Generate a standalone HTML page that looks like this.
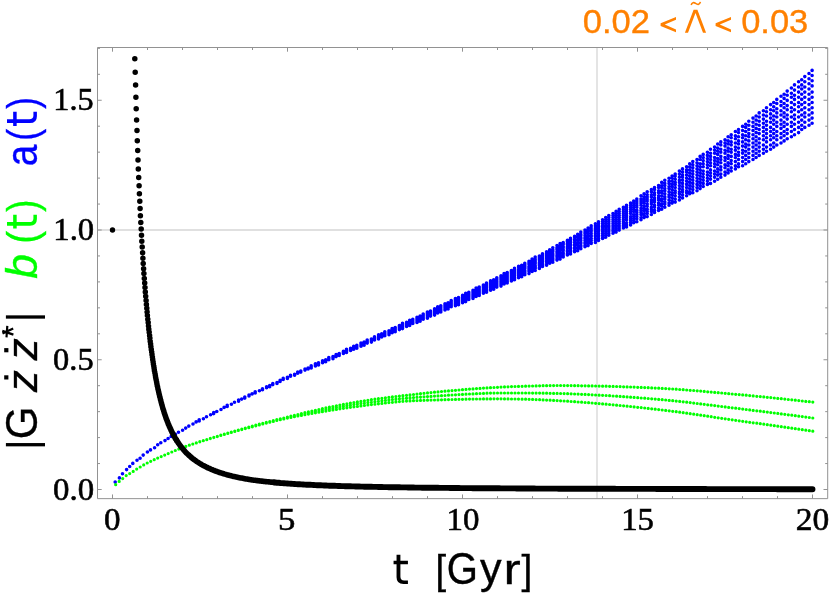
<!DOCTYPE html><html><head><meta charset="utf-8"><style>html,body{margin:0;padding:0;background:#fff}svg{display:block;will-change:transform}text{white-space:pre}</style></head><body><svg width="830" height="596" viewBox="0 0 830 596">
<rect width="830" height="596" fill="#fff"/>
<path d="M597 47.5V498.65M97.5 230H827.7" stroke="#d6d6d6" stroke-width="1.3" fill="none"/>
<path d="M115.2 482.1h0M119.4 477.9h0M122.5 473.8h0M126.6 469.6h0M129.7 466.5h0M132.8 463.4h0M137.0 460.3h0M140.1 458.2h0M143.2 455.1h0M147.4 452.0h0M150.5 449.9h0M154.6 447.8h0M157.7 444.7h0M160.8 442.7h0M165.0 440.6h0M168.1 438.5h0M171.2 436.4h0M175.4 434.4h0M178.5 432.3h0M182.6 430.2h0M185.7 428.1h0M188.8 426.1h0M193.0 424.0h0M196.1 421.9h0M199.2 420.9h0M203.4 418.8h0M206.5 416.7h0M210.6 414.7h0M213.7 413.6h0M216.8 411.5h0M221.0 409.5h0M224.1 407.4h0M227.2 406.4h0M231.4 404.3h0M234.5 402.2h0M238.6 401.2h0M241.7 399.1h0M244.8 398.1h0M249.0 396.0h0M252.1 393.9h0M255.2 392.9h0M259.4 390.8h0M262.5 389.8h0M266.6 387.7h0M269.7 386.7h0M272.8 384.6h0M277.0 383.5h0M280.1 381.5h0M283.2 379.4h0M287.4 378.4h0M290.5 376.3h0M294.6 375.3h0M297.7 373.2h0M300.8 372.1h0M305.0 370.1h0M308.1 369.0h0M311.2 368.0h0M315.4 365.9h0M318.5 364.9h0M322.6 362.8h0M325.7 361.8h0M328.8 359.7h0M333.0 358.7h0M336.1 356.6h0M339.2 355.5h0M343.4 353.5h0M346.5 352.4h0M350.6 350.4h0M353.7 349.3h0M356.8 348.3h0M361.0 346.2h0M364.1 345.2h0M367.2 343.1h0M371.4 342.1h0M374.5 340.0h0M378.6 339.0h0M381.7 336.9h0M384.8 335.8h0M389.0 334.8h0M392.1 332.7h0M395.2 331.7h0M399.4 329.6h0M402.5 328.6h0M406.6 326.5h0M409.7 325.5h0M412.8 323.4h0M417.0 322.4h0M420.1 321.3h0M423.2 319.3h0M427.4 318.2h0M430.5 316.1h0M434.6 315.1h0M437.7 313.0h0M440.8 312.0h0M445.0 309.9h0M448.1 308.9h0M451.2 306.8h0M455.4 305.8h0M458.5 304.7h0M462.6 302.7h0M465.7 301.6h0M468.8 299.5h0M473.0 298.5h0M476.1 296.4h0M479.2 295.4h0M483.4 293.3h0M486.5 292.3h0M490.6 290.2h0M493.7 289.2h0M496.8 287.1h0M501.0 286.1h0M504.1 284.0h0M507.2 283.0h0M511.4 280.9h0M514.5 279.8h0M518.6 277.8h0M521.7 276.7h0M524.8 274.7h0M529.0 273.6h0M532.1 271.5h0M535.2 270.5h0M539.4 268.4h0M542.5 266.4h0M546.6 265.3h0M549.7 263.3h0M552.8 262.2h0M557.0 260.1h0M560.1 259.1h0M563.2 257.0h0M567.4 255.0h0M570.5 253.9h0M574.6 251.8h0M577.7 250.8h0M580.8 248.7h0M585.0 246.7h0M588.1 245.6h0M591.2 243.5h0M595.4 242.5h0M598.5 240.4h0M602.6 238.4h0M605.7 237.3h0M608.8 235.3h0M613.0 233.2h0M616.1 232.1h0M619.2 230.1h0M623.4 228.0h0M626.5 227.0h0M630.6 224.9h0M633.7 222.8h0M636.8 221.8h0M641.0 219.7h0M644.1 217.6h0M647.2 216.6h0M651.4 214.5h0M654.5 212.4h0M658.6 210.4h0M661.7 209.3h0M664.8 207.3h0M669.0 205.2h0M672.1 203.1h0M675.2 202.1h0M679.4 200.0h0M682.5 197.9h0M686.6 195.8h0M689.7 193.8h0M692.8 192.7h0M697.0 190.7h0M700.1 188.6h0M703.2 186.5h0M707.4 184.4h0M710.5 183.4h0M714.6 181.3h0M717.7 179.3h0M720.8 177.2h0M725.0 175.1h0M728.1 173.0h0M731.2 171.0h0M735.4 168.9h0M738.5 166.8h0M742.6 165.8h0M745.7 163.7h0M748.8 161.6h0M753.0 159.5h0M756.1 157.5h0M759.2 155.4h0M763.4 153.3h0M766.5 151.3h0M770.6 149.2h0M773.7 147.1h0M776.8 145.0h0M781.0 143.0h0M784.1 140.9h0M787.2 138.8h0M791.4 136.7h0M794.5 134.7h0M798.6 132.6h0M801.7 129.5h0M804.8 127.4h0M809.0 125.3h0M812.1 123.3h0M115.2 482.1h0M119.4 477.9h0M122.5 473.8h0M126.6 469.6h0M129.7 466.5h0M132.8 463.4h0M137.0 460.3h0M140.1 458.2h0M143.2 455.1h0M147.4 452.0h0M150.5 449.9h0M154.6 447.8h0M157.7 444.7h0M160.8 442.7h0M165.0 440.6h0M168.1 438.5h0M171.2 436.4h0M175.4 434.4h0M178.5 432.3h0M182.6 430.2h0M185.7 428.1h0M188.8 426.1h0M193.0 424.0h0M196.1 421.9h0M199.2 420.9h0M203.4 418.8h0M206.5 416.7h0M210.6 414.7h0M213.7 413.6h0M216.8 411.5h0M221.0 409.5h0M224.1 407.4h0M227.2 406.4h0M231.4 404.3h0M234.5 402.2h0M238.6 401.2h0M241.7 399.1h0M244.8 398.1h0M249.0 396.0h0M252.1 393.9h0M255.2 392.9h0M259.4 390.8h0M262.5 389.8h0M266.6 387.7h0M269.7 386.7h0M272.8 384.6h0M277.0 382.5h0M280.1 381.5h0M283.2 379.4h0M287.4 378.4h0M290.5 376.3h0M294.6 375.3h0M297.7 373.2h0M300.8 372.1h0M305.0 370.1h0M308.1 369.0h0M311.2 367.0h0M315.4 365.9h0M318.5 363.8h0M322.6 362.8h0M325.7 360.7h0M328.8 359.7h0M333.0 357.6h0M336.1 356.6h0M339.2 355.5h0M343.4 353.5h0M346.5 352.4h0M350.6 350.4h0M353.7 349.3h0M356.8 347.3h0M361.0 346.2h0M364.1 344.1h0M367.2 343.1h0M371.4 341.0h0M374.5 340.0h0M378.6 339.0h0M381.7 336.9h0M384.8 335.8h0M389.0 333.8h0M392.1 332.7h0M395.2 330.7h0M399.4 329.6h0M402.5 327.5h0M406.6 326.5h0M409.7 324.4h0M412.8 323.4h0M417.0 321.3h0M420.1 320.3h0M423.2 319.3h0M427.4 317.2h0M430.5 316.1h0M434.6 314.1h0M437.7 313.0h0M440.8 311.0h0M445.0 309.9h0M448.1 307.8h0M451.2 306.8h0M455.4 304.7h0M458.5 303.7h0M462.6 301.6h0M465.7 300.6h0M468.8 298.5h0M473.0 297.5h0M476.1 295.4h0M479.2 294.4h0M483.4 292.3h0M486.5 291.3h0M490.6 289.2h0M493.7 288.1h0M496.8 286.1h0M501.0 285.0h0M504.1 283.0h0M507.2 281.9h0M511.4 279.8h0M514.5 278.8h0M518.6 276.7h0M521.7 275.7h0M524.8 273.6h0M529.0 271.5h0M532.1 270.5h0M535.2 268.4h0M539.4 267.4h0M542.5 265.3h0M546.6 264.3h0M549.7 262.2h0M552.8 260.1h0M557.0 259.1h0M560.1 257.0h0M563.2 256.0h0M567.4 253.9h0M570.5 251.8h0M574.6 250.8h0M577.7 248.7h0M580.8 246.7h0M585.0 245.6h0M588.1 243.5h0M591.2 242.5h0M595.4 240.4h0M598.5 238.4h0M602.6 237.3h0M605.7 235.3h0M608.8 233.2h0M613.0 231.1h0M616.1 230.1h0M619.2 228.0h0M623.4 225.9h0M626.5 224.9h0M630.6 222.8h0M633.7 220.7h0M636.8 218.7h0M641.0 217.6h0M644.1 215.5h0M647.2 213.5h0M651.4 211.4h0M654.5 210.4h0M658.6 208.3h0M661.7 206.2h0M664.8 204.1h0M669.0 203.1h0M672.1 201.0h0M675.2 199.0h0M679.4 196.9h0M682.5 194.8h0M686.6 192.7h0M689.7 191.7h0M692.8 189.6h0M697.0 187.5h0M700.1 185.5h0M703.2 183.4h0M707.4 181.3h0M710.5 179.3h0M714.6 177.2h0M717.7 175.1h0M720.8 174.1h0M725.0 172.0h0M728.1 169.9h0M731.2 167.8h0M735.4 165.8h0M738.5 163.7h0M742.6 161.6h0M745.7 159.5h0M748.8 157.5h0M753.0 155.4h0M756.1 153.3h0M759.2 151.3h0M763.4 149.2h0M766.5 147.1h0M770.6 145.0h0M773.7 143.0h0M776.8 139.8h0M781.0 137.8h0M784.1 135.7h0M787.2 133.6h0M791.4 131.5h0M794.5 129.5h0M798.6 127.4h0M801.7 125.3h0M804.8 122.2h0M809.0 120.1h0M812.1 118.1h0M115.2 482.1h0M119.4 477.9h0M122.5 473.8h0M126.6 469.6h0M129.7 466.5h0M132.8 463.4h0M137.0 460.3h0M140.1 458.2h0M143.2 455.1h0M147.4 452.0h0M150.5 449.9h0M154.6 447.8h0M157.7 444.7h0M160.8 442.7h0M165.0 440.6h0M168.1 438.5h0M171.2 436.4h0M175.4 434.4h0M178.5 432.3h0M182.6 430.2h0M185.7 428.1h0M188.8 426.1h0M193.0 424.0h0M196.1 421.9h0M199.2 420.9h0M203.4 418.8h0M206.5 416.7h0M210.6 414.7h0M213.7 413.6h0M216.8 411.5h0M221.0 409.5h0M224.1 407.4h0M227.2 406.4h0M231.4 404.3h0M234.5 402.2h0M238.6 401.2h0M241.7 399.1h0M244.8 398.1h0M249.0 396.0h0M252.1 393.9h0M255.2 392.9h0M259.4 390.8h0M262.5 389.8h0M266.6 387.7h0M269.7 385.6h0M272.8 384.6h0M277.0 382.5h0M280.1 381.5h0M283.2 379.4h0M287.4 378.4h0M290.5 376.3h0M294.6 375.3h0M297.7 373.2h0M300.8 372.1h0M305.0 370.1h0M308.1 369.0h0M311.2 367.0h0M315.4 365.9h0M318.5 363.8h0M322.6 362.8h0M325.7 360.7h0M328.8 359.7h0M333.0 357.6h0M336.1 356.6h0M339.2 354.5h0M343.4 353.5h0M346.5 351.4h0M350.6 350.4h0M353.7 348.3h0M356.8 347.3h0M361.0 346.2h0M364.1 344.1h0M367.2 343.1h0M371.4 341.0h0M374.5 340.0h0M378.6 337.9h0M381.7 336.9h0M384.8 334.8h0M389.0 333.8h0M392.1 331.7h0M395.2 330.7h0M399.4 328.6h0M402.5 327.5h0M406.6 325.5h0M409.7 324.4h0M412.8 322.4h0M417.0 321.3h0M420.1 320.3h0M423.2 318.2h0M427.4 317.2h0M430.5 315.1h0M434.6 314.1h0M437.7 312.0h0M440.8 311.0h0M445.0 308.9h0M448.1 307.8h0M451.2 305.8h0M455.4 304.7h0M458.5 302.7h0M462.6 301.6h0M465.7 299.5h0M468.8 298.5h0M473.0 296.4h0M476.1 295.4h0M479.2 293.3h0M483.4 291.3h0M486.5 290.2h0M490.6 288.1h0M493.7 287.1h0M496.8 285.0h0M501.0 284.0h0M504.1 281.9h0M507.2 280.9h0M511.4 278.8h0M514.5 277.8h0M518.6 275.7h0M521.7 273.6h0M524.8 272.6h0M529.0 270.5h0M532.1 269.5h0M535.2 267.4h0M539.4 265.3h0M542.5 264.3h0M546.6 262.2h0M549.7 261.2h0M552.8 259.1h0M557.0 257.0h0M560.1 256.0h0M563.2 253.9h0M567.4 251.8h0M570.5 250.8h0M574.6 248.7h0M577.7 247.7h0M580.8 245.6h0M585.0 243.5h0M588.1 241.5h0M591.2 240.4h0M595.4 238.4h0M598.5 236.3h0M602.6 235.3h0M605.7 233.2h0M608.8 231.1h0M613.0 230.1h0M616.1 228.0h0M619.2 225.9h0M623.4 223.8h0M626.5 222.8h0M630.6 220.7h0M633.7 218.7h0M636.8 216.6h0M641.0 214.5h0M644.1 213.5h0M647.2 211.4h0M651.4 209.3h0M654.5 207.3h0M658.6 205.2h0M661.7 204.1h0M664.8 202.1h0M669.0 200.0h0M672.1 197.9h0M675.2 195.8h0M679.4 193.8h0M682.5 191.7h0M686.6 190.7h0M689.7 188.6h0M692.8 186.5h0M697.0 184.4h0M700.1 182.4h0M703.2 180.3h0M707.4 178.2h0M710.5 176.1h0M714.6 174.1h0M717.7 172.0h0M720.8 169.9h0M725.0 167.8h0M728.1 165.8h0M731.2 163.7h0M735.4 161.6h0M738.5 159.5h0M742.6 157.5h0M745.7 155.4h0M748.8 153.3h0M753.0 151.3h0M756.1 149.2h0M759.2 147.1h0M763.4 145.0h0M766.5 141.9h0M770.6 139.8h0M773.7 137.8h0M776.8 135.7h0M781.0 133.6h0M784.1 131.5h0M787.2 129.5h0M791.4 126.4h0M794.5 124.3h0M798.6 122.2h0M801.7 120.1h0M804.8 117.0h0M809.0 115.0h0M812.1 112.9h0M115.2 482.1h0M119.4 477.9h0M122.5 473.8h0M126.6 469.6h0M129.7 466.5h0M132.8 463.4h0M137.0 460.3h0M140.1 458.2h0M143.2 455.1h0M147.4 452.0h0M150.5 449.9h0M154.6 447.8h0M157.7 444.7h0M160.8 442.7h0M165.0 440.6h0M168.1 438.5h0M171.2 436.4h0M175.4 434.4h0M178.5 432.3h0M182.6 430.2h0M185.7 428.1h0M188.8 426.1h0M193.0 424.0h0M196.1 421.9h0M199.2 420.9h0M203.4 418.8h0M206.5 416.7h0M210.6 414.7h0M213.7 412.6h0M216.8 411.5h0M221.0 409.5h0M224.1 407.4h0M227.2 406.4h0M231.4 404.3h0M234.5 402.2h0M238.6 401.2h0M241.7 399.1h0M244.8 397.0h0M249.0 396.0h0M252.1 393.9h0M255.2 392.9h0M259.4 390.8h0M262.5 388.7h0M266.6 387.7h0M269.7 385.6h0M272.8 384.6h0M277.0 382.5h0M280.1 381.5h0M283.2 379.4h0M287.4 378.4h0M290.5 376.3h0M294.6 375.3h0M297.7 373.2h0M300.8 372.1h0M305.0 370.1h0M308.1 369.0h0M311.2 367.0h0M315.4 365.9h0M318.5 363.8h0M322.6 362.8h0M325.7 360.7h0M328.8 359.7h0M333.0 357.6h0M336.1 356.6h0M339.2 354.5h0M343.4 353.5h0M346.5 351.4h0M350.6 350.4h0M353.7 348.3h0M356.8 347.3h0M361.0 345.2h0M364.1 344.1h0M367.2 342.1h0M371.4 341.0h0M374.5 339.0h0M378.6 337.9h0M381.7 335.8h0M384.8 334.8h0M389.0 332.7h0M392.1 331.7h0M395.2 329.6h0M399.4 328.6h0M402.5 326.5h0M406.6 325.5h0M409.7 323.4h0M412.8 322.4h0M417.0 320.3h0M420.1 319.3h0M423.2 318.2h0M427.4 316.1h0M430.5 315.1h0M434.6 313.0h0M437.7 311.0h0M440.8 309.9h0M445.0 307.8h0M448.1 306.8h0M451.2 304.7h0M455.4 303.7h0M458.5 301.6h0M462.6 300.6h0M465.7 298.5h0M468.8 297.5h0M473.0 295.4h0M476.1 294.4h0M479.2 292.3h0M483.4 291.3h0M486.5 289.2h0M490.6 288.1h0M493.7 286.1h0M496.8 284.0h0M501.0 283.0h0M504.1 280.9h0M507.2 279.8h0M511.4 277.8h0M514.5 275.7h0M518.6 274.7h0M521.7 272.6h0M524.8 271.5h0M529.0 269.5h0M532.1 267.4h0M535.2 266.4h0M539.4 264.3h0M542.5 263.3h0M546.6 261.2h0M549.7 259.1h0M552.8 258.1h0M557.0 256.0h0M560.1 253.9h0M563.2 252.9h0M567.4 250.8h0M570.5 248.7h0M574.6 247.7h0M577.7 245.6h0M580.8 243.5h0M585.0 242.5h0M588.1 240.4h0M591.2 238.4h0M595.4 236.3h0M598.5 235.3h0M602.6 233.2h0M605.7 231.1h0M608.8 229.0h0M613.0 228.0h0M616.1 225.9h0M619.2 223.8h0M623.4 221.8h0M626.5 219.7h0M630.6 218.7h0M633.7 216.6h0M636.8 214.5h0M641.0 212.4h0M644.1 210.4h0M647.2 209.3h0M651.4 207.3h0M654.5 205.2h0M658.6 203.1h0M661.7 201.0h0M664.8 199.0h0M669.0 196.9h0M672.1 194.8h0M675.2 192.7h0M679.4 191.7h0M682.5 189.6h0M686.6 187.5h0M689.7 185.5h0M692.8 183.4h0M697.0 181.3h0M700.1 179.3h0M703.2 177.2h0M707.4 175.1h0M710.5 173.0h0M714.6 171.0h0M717.7 168.9h0M720.8 166.8h0M725.0 164.7h0M728.1 162.7h0M731.2 160.6h0M735.4 157.5h0M738.5 155.4h0M742.6 153.3h0M745.7 151.3h0M748.8 149.2h0M753.0 147.1h0M756.1 145.0h0M759.2 143.0h0M763.4 139.8h0M766.5 137.8h0M770.6 135.7h0M773.7 133.6h0M776.8 131.5h0M781.0 128.4h0M784.1 126.4h0M787.2 124.3h0M791.4 122.2h0M794.5 119.1h0M798.6 117.0h0M801.7 115.0h0M804.8 112.9h0M809.0 109.8h0M812.1 107.7h0M115.2 482.1h0M119.4 477.9h0M122.5 473.8h0M126.6 469.6h0M129.7 466.5h0M132.8 463.4h0M137.0 460.3h0M140.1 458.2h0M143.2 455.1h0M147.4 452.0h0M150.5 449.9h0M154.6 447.8h0M157.7 444.7h0M160.8 442.7h0M165.0 440.6h0M168.1 438.5h0M171.2 436.4h0M175.4 434.4h0M178.5 432.3h0M182.6 430.2h0M185.7 428.1h0M188.8 426.1h0M193.0 424.0h0M196.1 421.9h0M199.2 420.9h0M203.4 418.8h0M206.5 416.7h0M210.6 414.7h0M213.7 412.6h0M216.8 411.5h0M221.0 409.5h0M224.1 407.4h0M227.2 406.4h0M231.4 404.3h0M234.5 402.2h0M238.6 401.2h0M241.7 399.1h0M244.8 397.0h0M249.0 396.0h0M252.1 393.9h0M255.2 392.9h0M259.4 390.8h0M262.5 388.7h0M266.6 387.7h0M269.7 385.6h0M272.8 384.6h0M277.0 382.5h0M280.1 381.5h0M283.2 379.4h0M287.4 378.4h0M290.5 376.3h0M294.6 374.2h0M297.7 373.2h0M300.8 371.1h0M305.0 370.1h0M308.1 368.0h0M311.2 367.0h0M315.4 364.9h0M318.5 363.8h0M322.6 361.8h0M325.7 360.7h0M328.8 358.7h0M333.0 357.6h0M336.1 355.5h0M339.2 354.5h0M343.4 352.4h0M346.5 351.4h0M350.6 349.3h0M353.7 348.3h0M356.8 346.2h0M361.0 345.2h0M364.1 343.1h0M367.2 342.1h0M371.4 340.0h0M374.5 339.0h0M378.6 336.9h0M381.7 335.8h0M384.8 333.8h0M389.0 332.7h0M392.1 331.7h0M395.2 329.6h0M399.4 328.6h0M402.5 326.5h0M406.6 325.5h0M409.7 323.4h0M412.8 322.4h0M417.0 320.3h0M420.1 318.2h0M423.2 317.2h0M427.4 315.1h0M430.5 314.1h0M434.6 312.0h0M437.7 311.0h0M440.8 308.9h0M445.0 307.8h0M448.1 305.8h0M451.2 304.7h0M455.4 302.7h0M458.5 301.6h0M462.6 299.5h0M465.7 298.5h0M468.8 296.4h0M473.0 294.4h0M476.1 293.3h0M479.2 291.3h0M483.4 290.2h0M486.5 288.1h0M490.6 287.1h0M493.7 285.0h0M496.8 283.0h0M501.0 281.9h0M504.1 279.8h0M507.2 278.8h0M511.4 276.7h0M514.5 274.7h0M518.6 273.6h0M521.7 271.5h0M524.8 270.5h0M529.0 268.4h0M532.1 266.4h0M535.2 265.3h0M539.4 263.3h0M542.5 261.2h0M546.6 260.1h0M549.7 258.1h0M552.8 256.0h0M557.0 255.0h0M560.1 252.9h0M563.2 250.8h0M567.4 248.7h0M570.5 247.7h0M574.6 245.6h0M577.7 243.5h0M580.8 242.5h0M585.0 240.4h0M588.1 238.4h0M591.2 236.3h0M595.4 235.3h0M598.5 233.2h0M602.6 231.1h0M605.7 229.0h0M608.8 227.0h0M613.0 225.9h0M616.1 223.8h0M619.2 221.8h0M623.4 219.7h0M626.5 217.6h0M630.6 216.6h0M633.7 214.5h0M636.8 212.4h0M641.0 210.4h0M644.1 208.3h0M647.2 206.2h0M651.4 204.1h0M654.5 202.1h0M658.6 200.0h0M661.7 199.0h0M664.8 196.9h0M669.0 194.8h0M672.1 192.7h0M675.2 190.7h0M679.4 188.6h0M682.5 186.5h0M686.6 184.4h0M689.7 182.4h0M692.8 180.3h0M697.0 178.2h0M700.1 176.1h0M703.2 174.1h0M707.4 172.0h0M710.5 169.9h0M714.6 166.8h0M717.7 164.7h0M720.8 162.7h0M725.0 160.6h0M728.1 158.5h0M731.2 156.4h0M735.4 154.4h0M738.5 152.3h0M742.6 150.2h0M745.7 147.1h0M748.8 145.0h0M753.0 143.0h0M756.1 140.9h0M759.2 138.8h0M763.4 135.7h0M766.5 133.6h0M770.6 131.5h0M773.7 129.5h0M776.8 126.4h0M781.0 124.3h0M784.1 122.2h0M787.2 119.1h0M791.4 117.0h0M794.5 115.0h0M798.6 111.8h0M801.7 109.8h0M804.8 107.7h0M809.0 104.6h0M812.1 102.5h0M115.2 482.1h0M119.4 477.9h0M122.5 473.8h0M126.6 469.6h0M129.7 466.5h0M132.8 463.4h0M137.0 460.3h0M140.1 458.2h0M143.2 455.1h0M147.4 452.0h0M150.5 449.9h0M154.6 447.8h0M157.7 444.7h0M160.8 442.7h0M165.0 440.6h0M168.1 438.5h0M171.2 436.4h0M175.4 434.4h0M178.5 432.3h0M182.6 430.2h0M185.7 428.1h0M188.8 426.1h0M193.0 424.0h0M196.1 421.9h0M199.2 420.9h0M203.4 418.8h0M206.5 416.7h0M210.6 414.7h0M213.7 412.6h0M216.8 411.5h0M221.0 409.5h0M224.1 407.4h0M227.2 406.4h0M231.4 404.3h0M234.5 402.2h0M238.6 401.2h0M241.7 399.1h0M244.8 397.0h0M249.0 396.0h0M252.1 393.9h0M255.2 392.9h0M259.4 390.8h0M262.5 388.7h0M266.6 387.7h0M269.7 385.6h0M272.8 384.6h0M277.0 382.5h0M280.1 381.5h0M283.2 379.4h0M287.4 377.3h0M290.5 376.3h0M294.6 374.2h0M297.7 373.2h0M300.8 371.1h0M305.0 370.1h0M308.1 368.0h0M311.2 367.0h0M315.4 364.9h0M318.5 363.8h0M322.6 361.8h0M325.7 360.7h0M328.8 358.7h0M333.0 357.6h0M336.1 355.5h0M339.2 354.5h0M343.4 352.4h0M346.5 351.4h0M350.6 349.3h0M353.7 348.3h0M356.8 346.2h0M361.0 345.2h0M364.1 343.1h0M367.2 342.1h0M371.4 340.0h0M374.5 339.0h0M378.6 336.9h0M381.7 335.8h0M384.8 333.8h0M389.0 332.7h0M392.1 330.7h0M395.2 329.6h0M399.4 327.5h0M402.5 326.5h0M406.6 324.4h0M409.7 323.4h0M412.8 321.3h0M417.0 320.3h0M420.1 318.2h0M423.2 316.1h0M427.4 315.1h0M430.5 313.0h0M434.6 312.0h0M437.7 309.9h0M440.8 308.9h0M445.0 306.8h0M448.1 305.8h0M451.2 303.7h0M455.4 302.7h0M458.5 300.6h0M462.6 298.5h0M465.7 297.5h0M468.8 295.4h0M473.0 294.4h0M476.1 292.3h0M479.2 291.3h0M483.4 289.2h0M486.5 287.1h0M490.6 286.1h0M493.7 284.0h0M496.8 283.0h0M501.0 280.9h0M504.1 278.8h0M507.2 277.8h0M511.4 275.7h0M514.5 273.6h0M518.6 272.6h0M521.7 270.5h0M524.8 268.4h0M529.0 267.4h0M532.1 265.3h0M535.2 263.3h0M539.4 262.2h0M542.5 260.1h0M546.6 258.1h0M549.7 257.0h0M552.8 255.0h0M557.0 252.9h0M560.1 250.8h0M563.2 249.8h0M567.4 247.7h0M570.5 245.6h0M574.6 244.6h0M577.7 242.5h0M580.8 240.4h0M585.0 238.4h0M588.1 236.3h0M591.2 235.3h0M595.4 233.2h0M598.5 231.1h0M602.6 229.0h0M605.7 227.0h0M608.8 225.9h0M613.0 223.8h0M616.1 221.8h0M619.2 219.7h0M623.4 217.6h0M626.5 215.5h0M630.6 213.5h0M633.7 211.4h0M636.8 210.4h0M641.0 208.3h0M644.1 206.2h0M647.2 204.1h0M651.4 202.1h0M654.5 200.0h0M658.6 197.9h0M661.7 195.8h0M664.8 193.8h0M669.0 191.7h0M672.1 189.6h0M675.2 187.5h0M679.4 185.5h0M682.5 183.4h0M686.6 181.3h0M689.7 179.3h0M692.8 177.2h0M697.0 175.1h0M700.1 173.0h0M703.2 171.0h0M707.4 167.8h0M710.5 165.8h0M714.6 163.7h0M717.7 161.6h0M720.8 159.5h0M725.0 157.5h0M728.1 155.4h0M731.2 152.3h0M735.4 150.2h0M738.5 148.1h0M742.6 146.1h0M745.7 144.0h0M748.8 140.9h0M753.0 138.8h0M756.1 136.7h0M759.2 133.6h0M763.4 131.5h0M766.5 129.5h0M770.6 127.4h0M773.7 124.3h0M776.8 122.2h0M781.0 120.1h0M784.1 117.0h0M787.2 115.0h0M791.4 111.8h0M794.5 109.8h0M798.6 106.7h0M801.7 104.6h0M804.8 102.5h0M809.0 99.4h0M812.1 97.3h0M115.2 482.1h0M119.4 477.9h0M122.5 473.8h0M126.6 469.6h0M129.7 466.5h0M132.8 463.4h0M137.0 460.3h0M140.1 458.2h0M143.2 455.1h0M147.4 452.0h0M150.5 449.9h0M154.6 447.8h0M157.7 444.7h0M160.8 442.7h0M165.0 440.6h0M168.1 438.5h0M171.2 436.4h0M175.4 434.4h0M178.5 432.3h0M182.6 430.2h0M185.7 428.1h0M188.8 426.1h0M193.0 424.0h0M196.1 421.9h0M199.2 420.9h0M203.4 418.8h0M206.5 416.7h0M210.6 414.7h0M213.7 412.6h0M216.8 411.5h0M221.0 409.5h0M224.1 407.4h0M227.2 406.4h0M231.4 404.3h0M234.5 402.2h0M238.6 401.2h0M241.7 399.1h0M244.8 397.0h0M249.0 396.0h0M252.1 393.9h0M255.2 391.8h0M259.4 390.8h0M262.5 388.7h0M266.6 387.7h0M269.7 385.6h0M272.8 384.6h0M277.0 382.5h0M280.1 380.4h0M283.2 379.4h0M287.4 377.3h0M290.5 376.3h0M294.6 374.2h0M297.7 373.2h0M300.8 371.1h0M305.0 370.1h0M308.1 368.0h0M311.2 367.0h0M315.4 364.9h0M318.5 363.8h0M322.6 361.8h0M325.7 359.7h0M328.8 358.7h0M333.0 356.6h0M336.1 355.5h0M339.2 353.5h0M343.4 352.4h0M346.5 350.4h0M350.6 349.3h0M353.7 347.3h0M356.8 346.2h0M361.0 344.1h0M364.1 343.1h0M367.2 341.0h0M371.4 340.0h0M374.5 337.9h0M378.6 336.9h0M381.7 334.8h0M384.8 333.8h0M389.0 331.7h0M392.1 330.7h0M395.2 328.6h0M399.4 327.5h0M402.5 325.5h0M406.6 324.4h0M409.7 322.4h0M412.8 321.3h0M417.0 319.3h0M420.1 317.2h0M423.2 316.1h0M427.4 314.1h0M430.5 313.0h0M434.6 311.0h0M437.7 309.9h0M440.8 307.8h0M445.0 306.8h0M448.1 304.7h0M451.2 302.7h0M455.4 301.6h0M458.5 299.5h0M462.6 298.5h0M465.7 296.4h0M468.8 295.4h0M473.0 293.3h0M476.1 291.3h0M479.2 290.2h0M483.4 288.1h0M486.5 286.1h0M490.6 285.0h0M493.7 283.0h0M496.8 281.9h0M501.0 279.8h0M504.1 277.8h0M507.2 276.7h0M511.4 274.7h0M514.5 272.6h0M518.6 271.5h0M521.7 269.5h0M524.8 267.4h0M529.0 266.4h0M532.1 264.3h0M535.2 262.2h0M539.4 260.1h0M542.5 259.1h0M546.6 257.0h0M549.7 255.0h0M552.8 253.9h0M557.0 251.8h0M560.1 249.8h0M563.2 247.7h0M567.4 246.7h0M570.5 244.6h0M574.6 242.5h0M577.7 240.4h0M580.8 238.4h0M585.0 237.3h0M588.1 235.3h0M591.2 233.2h0M595.4 231.1h0M598.5 229.0h0M602.6 227.0h0M605.7 225.9h0M608.8 223.8h0M613.0 221.8h0M616.1 219.7h0M619.2 217.6h0M623.4 215.5h0M626.5 213.5h0M630.6 211.4h0M633.7 209.3h0M636.8 207.3h0M641.0 205.2h0M644.1 203.1h0M647.2 201.0h0M651.4 200.0h0M654.5 197.9h0M658.6 195.8h0M661.7 192.7h0M664.8 190.7h0M669.0 188.6h0M672.1 186.5h0M675.2 184.4h0M679.4 182.4h0M682.5 180.3h0M686.6 178.2h0M689.7 176.1h0M692.8 174.1h0M697.0 172.0h0M700.1 169.9h0M703.2 166.8h0M707.4 164.7h0M710.5 162.7h0M714.6 160.6h0M717.7 158.5h0M720.8 156.4h0M725.0 153.3h0M728.1 151.3h0M731.2 149.2h0M735.4 147.1h0M738.5 144.0h0M742.6 141.9h0M745.7 139.8h0M748.8 136.7h0M753.0 134.7h0M756.1 132.6h0M759.2 129.5h0M763.4 127.4h0M766.5 125.3h0M770.6 122.2h0M773.7 120.1h0M776.8 117.0h0M781.0 115.0h0M784.1 112.9h0M787.2 109.8h0M791.4 107.7h0M794.5 104.6h0M798.6 102.5h0M801.7 99.4h0M804.8 97.3h0M809.0 94.2h0M812.1 92.1h0M115.2 482.1h0M119.4 477.9h0M122.5 473.8h0M126.6 469.6h0M129.7 466.5h0M132.8 463.4h0M137.0 460.3h0M140.1 458.2h0M143.2 455.1h0M147.4 452.0h0M150.5 449.9h0M154.6 447.8h0M157.7 444.7h0M160.8 442.7h0M165.0 440.6h0M168.1 438.5h0M171.2 436.4h0M175.4 434.4h0M178.5 432.3h0M182.6 430.2h0M185.7 428.1h0M188.8 426.1h0M193.0 424.0h0M196.1 421.9h0M199.2 420.9h0M203.4 418.8h0M206.5 416.7h0M210.6 414.7h0M213.7 412.6h0M216.8 411.5h0M221.0 409.5h0M224.1 407.4h0M227.2 406.4h0M231.4 404.3h0M234.5 402.2h0M238.6 401.2h0M241.7 399.1h0M244.8 397.0h0M249.0 396.0h0M252.1 393.9h0M255.2 391.8h0M259.4 390.8h0M262.5 388.7h0M266.6 387.7h0M269.7 385.6h0M272.8 383.5h0M277.0 382.5h0M280.1 380.4h0M283.2 379.4h0M287.4 377.3h0M290.5 376.3h0M294.6 374.2h0M297.7 373.2h0M300.8 371.1h0M305.0 369.0h0M308.1 368.0h0M311.2 365.9h0M315.4 364.9h0M318.5 362.8h0M322.6 361.8h0M325.7 359.7h0M328.8 358.7h0M333.0 356.6h0M336.1 355.5h0M339.2 353.5h0M343.4 352.4h0M346.5 350.4h0M350.6 349.3h0M353.7 347.3h0M356.8 346.2h0M361.0 344.1h0M364.1 343.1h0M367.2 341.0h0M371.4 340.0h0M374.5 337.9h0M378.6 335.8h0M381.7 334.8h0M384.8 332.7h0M389.0 331.7h0M392.1 329.6h0M395.2 328.6h0M399.4 326.5h0M402.5 325.5h0M406.6 323.4h0M409.7 322.4h0M412.8 320.3h0M417.0 319.3h0M420.1 317.2h0M423.2 315.1h0M427.4 314.1h0M430.5 312.0h0M434.6 311.0h0M437.7 308.9h0M440.8 307.8h0M445.0 305.8h0M448.1 303.7h0M451.2 302.7h0M455.4 300.6h0M458.5 299.5h0M462.6 297.5h0M465.7 295.4h0M468.8 294.4h0M473.0 292.3h0M476.1 291.3h0M479.2 289.2h0M483.4 287.1h0M486.5 286.1h0M490.6 284.0h0M493.7 281.9h0M496.8 280.9h0M501.0 278.8h0M504.1 276.7h0M507.2 275.7h0M511.4 273.6h0M514.5 271.5h0M518.6 270.5h0M521.7 268.4h0M524.8 266.4h0M529.0 264.3h0M532.1 263.3h0M535.2 261.2h0M539.4 259.1h0M542.5 258.1h0M546.6 256.0h0M549.7 253.9h0M552.8 251.8h0M557.0 249.8h0M560.1 248.7h0M563.2 246.7h0M567.4 244.6h0M570.5 242.5h0M574.6 240.4h0M577.7 239.4h0M580.8 237.3h0M585.0 235.3h0M588.1 233.2h0M591.2 231.1h0M595.4 229.0h0M598.5 227.0h0M602.6 225.9h0M605.7 223.8h0M608.8 221.8h0M613.0 219.7h0M616.1 217.6h0M619.2 215.5h0M623.4 213.5h0M626.5 211.4h0M630.6 209.3h0M633.7 207.3h0M636.8 205.2h0M641.0 203.1h0M644.1 201.0h0M647.2 199.0h0M651.4 196.9h0M654.5 194.8h0M658.6 192.7h0M661.7 190.7h0M664.8 188.6h0M669.0 186.5h0M672.1 184.4h0M675.2 182.4h0M679.4 180.3h0M682.5 177.2h0M686.6 175.1h0M689.7 173.0h0M692.8 171.0h0M697.0 168.9h0M700.1 166.8h0M703.2 163.7h0M707.4 161.6h0M710.5 159.5h0M714.6 157.5h0M717.7 154.4h0M720.8 152.3h0M725.0 150.2h0M728.1 148.1h0M731.2 145.0h0M735.4 143.0h0M738.5 140.9h0M742.6 137.8h0M745.7 135.7h0M748.8 133.6h0M753.0 130.5h0M756.1 128.4h0M759.2 125.3h0M763.4 123.3h0M766.5 121.2h0M770.6 118.1h0M773.7 116.0h0M776.8 112.9h0M781.0 110.8h0M784.1 107.7h0M787.2 105.6h0M791.4 102.5h0M794.5 99.4h0M798.6 97.3h0M801.7 94.2h0M804.8 92.1h0M809.0 89.0h0M812.1 85.9h0M115.2 482.1h0M119.4 477.9h0M122.5 473.8h0M126.6 469.6h0M129.7 466.5h0M132.8 463.4h0M137.0 460.3h0M140.1 458.2h0M143.2 455.1h0M147.4 452.0h0M150.5 449.9h0M154.6 447.8h0M157.7 444.7h0M160.8 442.7h0M165.0 440.6h0M168.1 438.5h0M171.2 436.4h0M175.4 434.4h0M178.5 432.3h0M182.6 430.2h0M185.7 428.1h0M188.8 426.1h0M193.0 424.0h0M196.1 421.9h0M199.2 419.8h0M203.4 418.8h0M206.5 416.7h0M210.6 414.7h0M213.7 412.6h0M216.8 411.5h0M221.0 409.5h0M224.1 407.4h0M227.2 406.4h0M231.4 404.3h0M234.5 402.2h0M238.6 400.1h0M241.7 399.1h0M244.8 397.0h0M249.0 396.0h0M252.1 393.9h0M255.2 391.8h0M259.4 390.8h0M262.5 388.7h0M266.6 387.7h0M269.7 385.6h0M272.8 383.5h0M277.0 382.5h0M280.1 380.4h0M283.2 379.4h0M287.4 377.3h0M290.5 376.3h0M294.6 374.2h0M297.7 372.1h0M300.8 371.1h0M305.0 369.0h0M308.1 368.0h0M311.2 365.9h0M315.4 364.9h0M318.5 362.8h0M322.6 361.8h0M325.7 359.7h0M328.8 358.7h0M333.0 356.6h0M336.1 355.5h0M339.2 353.5h0M343.4 351.4h0M346.5 350.4h0M350.6 348.3h0M353.7 347.3h0M356.8 345.2h0M361.0 344.1h0M364.1 342.1h0M367.2 341.0h0M371.4 339.0h0M374.5 337.9h0M378.6 335.8h0M381.7 334.8h0M384.8 332.7h0M389.0 331.7h0M392.1 329.6h0M395.2 327.5h0M399.4 326.5h0M402.5 324.4h0M406.6 323.4h0M409.7 321.3h0M412.8 320.3h0M417.0 318.2h0M420.1 316.1h0M423.2 315.1h0M427.4 313.0h0M430.5 312.0h0M434.6 309.9h0M437.7 308.9h0M440.8 306.8h0M445.0 304.7h0M448.1 303.7h0M451.2 301.6h0M455.4 300.6h0M458.5 298.5h0M462.6 296.4h0M465.7 295.4h0M468.8 293.3h0M473.0 291.3h0M476.1 290.2h0M479.2 288.1h0M483.4 286.1h0M486.5 285.0h0M490.6 283.0h0M493.7 280.9h0M496.8 279.8h0M501.0 277.8h0M504.1 275.7h0M507.2 274.7h0M511.4 272.6h0M514.5 270.5h0M518.6 269.5h0M521.7 267.4h0M524.8 265.3h0M529.0 263.3h0M532.1 262.2h0M535.2 260.1h0M539.4 258.1h0M542.5 256.0h0M546.6 253.9h0M549.7 252.9h0M552.8 250.8h0M557.0 248.7h0M560.1 246.7h0M563.2 244.6h0M567.4 243.5h0M570.5 241.5h0M574.6 239.4h0M577.7 237.3h0M580.8 235.3h0M585.0 233.2h0M588.1 231.1h0M591.2 230.1h0M595.4 228.0h0M598.5 225.9h0M602.6 223.8h0M605.7 221.8h0M608.8 219.7h0M613.0 217.6h0M616.1 215.5h0M619.2 213.5h0M623.4 211.4h0M626.5 209.3h0M630.6 207.3h0M633.7 205.2h0M636.8 203.1h0M641.0 201.0h0M644.1 199.0h0M647.2 196.9h0M651.4 194.8h0M654.5 192.7h0M658.6 190.7h0M661.7 187.5h0M664.8 185.5h0M669.0 183.4h0M672.1 181.3h0M675.2 179.3h0M679.4 177.2h0M682.5 175.1h0M686.6 172.0h0M689.7 169.9h0M692.8 167.8h0M697.0 165.8h0M700.1 163.7h0M703.2 160.6h0M707.4 158.5h0M710.5 156.4h0M714.6 153.3h0M717.7 151.3h0M720.8 149.2h0M725.0 146.1h0M728.1 144.0h0M731.2 141.9h0M735.4 138.8h0M738.5 136.7h0M742.6 134.7h0M745.7 131.5h0M748.8 129.5h0M753.0 126.4h0M756.1 124.3h0M759.2 121.2h0M763.4 119.1h0M766.5 116.0h0M770.6 113.9h0M773.7 110.8h0M776.8 108.7h0M781.0 105.6h0M784.1 103.5h0M787.2 100.4h0M791.4 97.3h0M794.5 95.3h0M798.6 92.1h0M801.7 89.0h0M804.8 87.0h0M809.0 83.8h0M812.1 80.7h0M115.2 482.1h0M119.4 477.9h0M122.5 473.8h0M126.6 469.6h0M129.7 466.5h0M132.8 463.4h0M137.0 460.3h0M140.1 458.2h0M143.2 455.1h0M147.4 452.0h0M150.5 449.9h0M154.6 447.8h0M157.7 444.7h0M160.8 442.7h0M165.0 440.6h0M168.1 438.5h0M171.2 436.4h0M175.4 434.4h0M178.5 432.3h0M182.6 430.2h0M185.7 428.1h0M188.8 426.1h0M193.0 424.0h0M196.1 421.9h0M199.2 419.8h0M203.4 418.8h0M206.5 416.7h0M210.6 414.7h0M213.7 412.6h0M216.8 411.5h0M221.0 409.5h0M224.1 407.4h0M227.2 405.3h0M231.4 404.3h0M234.5 402.2h0M238.6 400.1h0M241.7 399.1h0M244.8 397.0h0M249.0 396.0h0M252.1 393.9h0M255.2 391.8h0M259.4 390.8h0M262.5 388.7h0M266.6 386.7h0M269.7 385.6h0M272.8 383.5h0M277.0 382.5h0M280.1 380.4h0M283.2 379.4h0M287.4 377.3h0M290.5 375.3h0M294.6 374.2h0M297.7 372.1h0M300.8 371.1h0M305.0 369.0h0M308.1 368.0h0M311.2 365.9h0M315.4 364.9h0M318.5 362.8h0M322.6 360.7h0M325.7 359.7h0M328.8 357.6h0M333.0 356.6h0M336.1 354.5h0M339.2 353.5h0M343.4 351.4h0M346.5 350.4h0M350.6 348.3h0M353.7 347.3h0M356.8 345.2h0M361.0 344.1h0M364.1 342.1h0M367.2 340.0h0M371.4 339.0h0M374.5 336.9h0M378.6 335.8h0M381.7 333.8h0M384.8 332.7h0M389.0 330.7h0M392.1 329.6h0M395.2 327.5h0M399.4 325.5h0M402.5 324.4h0M406.6 322.4h0M409.7 321.3h0M412.8 319.3h0M417.0 318.2h0M420.1 316.1h0M423.2 314.1h0M427.4 313.0h0M430.5 311.0h0M434.6 309.9h0M437.7 307.8h0M440.8 305.8h0M445.0 304.7h0M448.1 302.7h0M451.2 301.6h0M455.4 299.5h0M458.5 297.5h0M462.6 296.4h0M465.7 294.4h0M468.8 292.3h0M473.0 291.3h0M476.1 289.2h0M479.2 287.1h0M483.4 286.1h0M486.5 284.0h0M490.6 281.9h0M493.7 280.9h0M496.8 278.8h0M501.0 276.7h0M504.1 274.7h0M507.2 273.6h0M511.4 271.5h0M514.5 269.5h0M518.6 267.4h0M521.7 266.4h0M524.8 264.3h0M529.0 262.2h0M532.1 260.1h0M535.2 259.1h0M539.4 257.0h0M542.5 255.0h0M546.6 252.9h0M549.7 250.8h0M552.8 249.8h0M557.0 247.7h0M560.1 245.6h0M563.2 243.5h0M567.4 241.5h0M570.5 239.4h0M574.6 237.3h0M577.7 236.3h0M580.8 234.2h0M585.0 232.1h0M588.1 230.1h0M591.2 228.0h0M595.4 225.9h0M598.5 223.8h0M602.6 221.8h0M605.7 219.7h0M608.8 217.6h0M613.0 215.5h0M616.1 213.5h0M619.2 211.4h0M623.4 209.3h0M626.5 207.3h0M630.6 205.2h0M633.7 203.1h0M636.8 201.0h0M641.0 199.0h0M644.1 196.9h0M647.2 194.8h0M651.4 191.7h0M654.5 189.6h0M658.6 187.5h0M661.7 185.5h0M664.8 183.4h0M669.0 181.3h0M672.1 178.2h0M675.2 176.1h0M679.4 174.1h0M682.5 172.0h0M686.6 169.9h0M689.7 166.8h0M692.8 164.7h0M697.0 162.7h0M700.1 159.5h0M703.2 157.5h0M707.4 155.4h0M710.5 153.3h0M714.6 150.2h0M717.7 148.1h0M720.8 145.0h0M725.0 143.0h0M728.1 140.9h0M731.2 137.8h0M735.4 135.7h0M738.5 132.6h0M742.6 130.5h0M745.7 127.4h0M748.8 125.3h0M753.0 122.2h0M756.1 120.1h0M759.2 117.0h0M763.4 115.0h0M766.5 111.8h0M770.6 109.8h0M773.7 106.7h0M776.8 103.5h0M781.0 101.5h0M784.1 98.4h0M787.2 95.3h0M791.4 93.2h0M794.5 90.1h0M798.6 87.0h0M801.7 84.9h0M804.8 81.8h0M809.0 78.7h0M812.1 75.5h0M115.2 482.1h0M119.4 477.9h0M122.5 473.8h0M126.6 469.6h0M129.7 466.5h0M132.8 463.4h0M137.0 460.3h0M140.1 458.2h0M143.2 455.1h0M147.4 452.0h0M150.5 449.9h0M154.6 447.8h0M157.7 444.7h0M160.8 442.7h0M165.0 440.6h0M168.1 438.5h0M171.2 436.4h0M175.4 434.4h0M178.5 432.3h0M182.6 430.2h0M185.7 428.1h0M188.8 426.1h0M193.0 424.0h0M196.1 421.9h0M199.2 419.8h0M203.4 418.8h0M206.5 416.7h0M210.6 414.7h0M213.7 412.6h0M216.8 411.5h0M221.0 409.5h0M224.1 407.4h0M227.2 405.3h0M231.4 404.3h0M234.5 402.2h0M238.6 400.1h0M241.7 399.1h0M244.8 397.0h0M249.0 395.0h0M252.1 393.9h0M255.2 391.8h0M259.4 390.8h0M262.5 388.7h0M266.6 386.7h0M269.7 385.6h0M272.8 383.5h0M277.0 382.5h0M280.1 380.4h0M283.2 378.4h0M287.4 377.3h0M290.5 375.3h0M294.6 374.2h0M297.7 372.1h0M300.8 371.1h0M305.0 369.0h0M308.1 368.0h0M311.2 365.9h0M315.4 363.8h0M318.5 362.8h0M322.6 360.7h0M325.7 359.7h0M328.8 357.6h0M333.0 356.6h0M336.1 354.5h0M339.2 353.5h0M343.4 351.4h0M346.5 349.3h0M350.6 348.3h0M353.7 346.2h0M356.8 345.2h0M361.0 343.1h0M364.1 342.1h0M367.2 340.0h0M371.4 339.0h0M374.5 336.9h0M378.6 334.8h0M381.7 333.8h0M384.8 331.7h0M389.0 330.7h0M392.1 328.6h0M395.2 327.5h0M399.4 325.5h0M402.5 323.4h0M406.6 322.4h0M409.7 320.3h0M412.8 319.3h0M417.0 317.2h0M420.1 316.1h0M423.2 314.1h0M427.4 312.0h0M430.5 311.0h0M434.6 308.9h0M437.7 306.8h0M440.8 305.8h0M445.0 303.7h0M448.1 302.7h0M451.2 300.6h0M455.4 298.5h0M458.5 297.5h0M462.6 295.4h0M465.7 293.3h0M468.8 292.3h0M473.0 290.2h0M476.1 288.1h0M479.2 287.1h0M483.4 285.0h0M486.5 283.0h0M490.6 280.9h0M493.7 279.8h0M496.8 277.8h0M501.0 275.7h0M504.1 273.6h0M507.2 272.6h0M511.4 270.5h0M514.5 268.4h0M518.6 266.4h0M521.7 265.3h0M524.8 263.3h0M529.0 261.2h0M532.1 259.1h0M535.2 257.0h0M539.4 256.0h0M542.5 253.9h0M546.6 251.8h0M549.7 249.8h0M552.8 247.7h0M557.0 245.6h0M560.1 243.5h0M563.2 242.5h0M567.4 240.4h0M570.5 238.4h0M574.6 236.3h0M577.7 234.2h0M580.8 232.1h0M585.0 230.1h0M588.1 228.0h0M591.2 225.9h0M595.4 223.8h0M598.5 221.8h0M602.6 219.7h0M605.7 217.6h0M608.8 215.5h0M613.0 213.5h0M616.1 211.4h0M619.2 209.3h0M623.4 207.3h0M626.5 205.2h0M630.6 203.1h0M633.7 201.0h0M636.8 199.0h0M641.0 195.8h0M644.1 193.8h0M647.2 191.7h0M651.4 189.6h0M654.5 187.5h0M658.6 185.5h0M661.7 182.4h0M664.8 180.3h0M669.0 178.2h0M672.1 176.1h0M675.2 174.1h0M679.4 171.0h0M682.5 168.9h0M686.6 166.8h0M689.7 163.7h0M692.8 161.6h0M697.0 159.5h0M700.1 156.4h0M703.2 154.4h0M707.4 152.3h0M710.5 149.2h0M714.6 147.1h0M717.7 144.0h0M720.8 141.9h0M725.0 139.8h0M728.1 136.7h0M731.2 134.7h0M735.4 131.5h0M738.5 129.5h0M742.6 126.4h0M745.7 124.3h0M748.8 121.2h0M753.0 118.1h0M756.1 116.0h0M759.2 112.9h0M763.4 110.8h0M766.5 107.7h0M770.6 104.6h0M773.7 102.5h0M776.8 99.4h0M781.0 96.3h0M784.1 94.2h0M787.2 91.1h0M791.4 88.0h0M794.5 84.9h0M798.6 81.8h0M801.7 79.7h0M804.8 76.6h0M809.0 73.5h0M812.1 70.4h0" stroke="#0000ff" stroke-width="3.6" stroke-linecap="round" fill="none"/>
<path d="M115.7 484.7h0M119.2 481.4h0M122.7 478.6h0M126.2 475.6h0M129.7 473.6h0M133.2 471.4h0M136.7 469.1h0M140.2 467.0h0M143.7 464.9h0M147.2 463.0h0M150.7 461.3h0M154.2 459.7h0M157.7 458.1h0M161.2 456.6h0M164.7 455.1h0M168.2 453.6h0M171.8 452.0h0M175.3 450.5h0M178.8 449.1h0M182.3 447.7h0M185.8 446.4h0M189.3 445.2h0M192.8 444.1h0M196.3 442.9h0M199.8 441.8h0M203.3 440.7h0M206.8 439.7h0M210.3 438.6h0M213.8 437.6h0M217.3 436.6h0M220.8 435.5h0M224.3 434.5h0M227.8 433.5h0M231.3 432.5h0M234.8 431.5h0M238.3 430.5h0M241.8 429.6h0M245.3 428.6h0M248.8 427.7h0M252.3 426.8h0M255.8 425.8h0M259.3 424.9h0M262.8 424.0h0M266.3 423.1h0M269.8 422.2h0M273.3 421.4h0M276.8 420.5h0M280.3 419.7h0M283.8 418.9h0M287.4 418.1h0M290.9 417.4h0M294.4 416.7h0M297.9 416.0h0M301.4 415.4h0M304.9 414.7h0M308.4 414.1h0M311.9 413.5h0M315.4 412.8h0M318.9 412.2h0M322.4 411.7h0M325.9 411.1h0M329.4 410.5h0M332.9 409.9h0M336.4 409.4h0M339.9 408.8h0M343.4 408.3h0M346.9 407.8h0M350.4 407.3h0M353.9 406.8h0M357.4 406.4h0M360.9 405.9h0M364.4 405.5h0M367.9 405.0h0M371.4 404.6h0M374.9 404.2h0M378.4 403.8h0M381.9 403.4h0M385.4 403.0h0M388.9 402.6h0M392.4 402.3h0M395.9 401.9h0M399.4 401.6h0M402.9 401.3h0M406.5 401.1h0M410.0 400.9h0M413.5 400.7h0M417.0 400.6h0M420.5 400.4h0M424.0 400.3h0M427.5 400.2h0M431.0 400.1h0M434.5 400.0h0M438.0 399.9h0M441.5 399.8h0M445.0 399.7h0M448.5 399.6h0M452.0 399.5h0M455.5 399.4h0M459.0 399.3h0M462.5 399.3h0M466.0 399.2h0M469.5 399.1h0M473.0 399.1h0M476.5 399.0h0M480.0 399.0h0M483.5 398.9h0M487.0 398.9h0M490.5 398.9h0M494.0 398.8h0M497.5 398.8h0M501.0 398.8h0M504.5 398.9h0M508.0 398.9h0M511.5 399.0h0M515.0 399.0h0M518.5 399.1h0M522.1 399.2h0M525.6 399.2h0M529.1 399.3h0M532.6 399.4h0M536.1 399.6h0M539.6 399.7h0M543.1 399.9h0M546.6 400.1h0M550.1 400.2h0M553.6 400.4h0M557.1 400.6h0M560.6 400.8h0M564.1 401.0h0M567.6 401.2h0M571.1 401.5h0M574.6 401.7h0M578.1 402.0h0M581.6 402.2h0M585.1 402.5h0M588.6 402.7h0M592.1 403.0h0M595.6 403.3h0M599.1 403.6h0M602.6 403.9h0M606.1 404.2h0M609.6 404.5h0M613.1 404.8h0M616.6 405.2h0M620.1 405.5h0M623.6 405.8h0M627.1 406.2h0M630.6 406.5h0M634.1 406.9h0M637.7 407.3h0M641.2 407.6h0M644.7 408.0h0M648.2 408.4h0M651.7 408.8h0M655.2 409.2h0M658.7 409.6h0M662.2 410.0h0M665.7 410.4h0M669.2 410.8h0M672.7 411.3h0M676.2 411.7h0M679.7 412.2h0M683.2 412.7h0M686.7 413.2h0M690.2 413.7h0M693.7 414.2h0M697.2 414.7h0M700.7 415.2h0M704.2 415.7h0M707.7 416.2h0M711.2 416.7h0M714.7 417.3h0M718.2 417.8h0M721.7 418.3h0M725.2 418.8h0M728.7 419.3h0M732.2 419.8h0M735.7 420.3h0M739.2 420.8h0M742.7 421.3h0M746.2 421.8h0M749.7 422.3h0M753.2 422.8h0M756.8 423.2h0M760.3 423.7h0M763.8 424.2h0M767.3 424.7h0M770.8 425.2h0M774.3 425.7h0M777.8 426.2h0M781.3 426.7h0M784.8 427.2h0M788.3 427.7h0M791.8 428.2h0M795.3 428.7h0M798.8 429.2h0M802.3 429.7h0M805.8 430.2h0M809.3 430.7h0M812.8 431.2h0M115.7 484.7h0M119.2 481.4h0M122.7 478.6h0M126.2 475.6h0M129.7 473.6h0M133.2 471.4h0M136.7 469.1h0M140.2 467.0h0M143.7 464.9h0M147.2 463.0h0M150.7 461.3h0M154.2 459.7h0M157.7 458.1h0M161.2 456.6h0M164.7 455.1h0M168.2 453.6h0M171.8 452.0h0M175.3 450.5h0M178.8 449.1h0M182.3 447.7h0M185.8 446.4h0M189.3 445.2h0M192.8 444.0h0M196.3 442.9h0M199.8 441.8h0M203.3 440.7h0M206.8 439.6h0M210.3 438.5h0M213.8 437.5h0M217.3 436.4h0M220.8 435.4h0M224.3 434.3h0M227.8 433.3h0M231.3 432.3h0M234.8 431.3h0M238.3 430.3h0M241.8 429.3h0M245.3 428.3h0M248.8 427.4h0M252.3 426.4h0M255.8 425.5h0M259.3 424.6h0M262.8 423.7h0M266.3 422.8h0M269.8 421.9h0M273.3 421.0h0M276.8 420.1h0M280.3 419.3h0M283.8 418.4h0M287.4 417.6h0M290.9 416.8h0M294.4 416.0h0M297.9 415.3h0M301.4 414.5h0M304.9 413.8h0M308.4 413.0h0M311.9 412.3h0M315.4 411.6h0M318.9 410.9h0M322.4 410.2h0M325.9 409.5h0M329.4 408.9h0M332.9 408.2h0M336.4 407.6h0M339.9 406.9h0M343.4 406.3h0M346.9 405.7h0M350.4 405.2h0M353.9 404.6h0M357.4 404.1h0M360.9 403.6h0M364.4 403.1h0M367.9 402.6h0M371.4 402.1h0M374.9 401.7h0M378.4 401.2h0M381.9 400.8h0M385.4 400.4h0M388.9 400.0h0M392.4 399.6h0M395.9 399.2h0M399.4 398.8h0M402.9 398.5h0M406.5 398.2h0M410.0 397.9h0M413.5 397.6h0M417.0 397.3h0M420.5 397.1h0M424.0 396.8h0M427.5 396.6h0M431.0 396.4h0M434.5 396.1h0M438.0 395.9h0M441.5 395.7h0M445.0 395.5h0M448.5 395.2h0M452.0 395.0h0M455.5 394.8h0M459.0 394.6h0M462.5 394.4h0M466.0 394.2h0M469.5 394.0h0M473.0 393.9h0M476.5 393.7h0M480.0 393.5h0M483.5 393.4h0M487.0 393.2h0M490.5 393.1h0M494.0 393.1h0M497.5 393.0h0M501.0 393.0h0M504.5 393.0h0M508.0 393.0h0M511.5 393.0h0M515.0 393.0h0M518.5 393.0h0M522.1 393.0h0M525.6 393.0h0M529.1 393.0h0M532.6 393.1h0M536.1 393.1h0M539.6 393.1h0M543.1 393.2h0M546.6 393.2h0M550.1 393.3h0M553.6 393.4h0M557.1 393.4h0M560.6 393.5h0M564.1 393.6h0M567.6 393.7h0M571.1 393.8h0M574.6 394.0h0M578.1 394.1h0M581.6 394.3h0M585.1 394.4h0M588.6 394.6h0M592.1 394.8h0M595.6 395.0h0M599.1 395.2h0M602.6 395.3h0M606.1 395.5h0M609.6 395.7h0M613.1 396.0h0M616.6 396.2h0M620.1 396.4h0M623.6 396.7h0M627.1 396.9h0M630.6 397.2h0M634.1 397.4h0M637.7 397.7h0M641.2 398.0h0M644.7 398.2h0M648.2 398.5h0M651.7 398.8h0M655.2 399.1h0M658.7 399.4h0M662.2 399.7h0M665.7 400.0h0M669.2 400.4h0M672.7 400.7h0M676.2 401.1h0M679.7 401.4h0M683.2 401.8h0M686.7 402.2h0M690.2 402.6h0M693.7 403.1h0M697.2 403.5h0M700.7 403.9h0M704.2 404.3h0M707.7 404.8h0M711.2 405.2h0M714.7 405.6h0M718.2 406.1h0M721.7 406.5h0M725.2 406.9h0M728.7 407.4h0M732.2 407.8h0M735.7 408.2h0M739.2 408.6h0M742.7 409.1h0M746.2 409.5h0M749.7 409.9h0M753.2 410.4h0M756.8 410.8h0M760.3 411.2h0M763.8 411.7h0M767.3 412.1h0M770.8 412.6h0M774.3 413.0h0M777.8 413.4h0M781.3 413.9h0M784.8 414.3h0M788.3 414.8h0M791.8 415.2h0M795.3 415.7h0M798.8 416.2h0M802.3 416.6h0M805.8 417.1h0M809.3 417.5h0M812.8 418.0h0M115.7 484.7h0M119.2 481.4h0M122.7 478.6h0M126.2 475.6h0M129.7 473.6h0M133.2 471.4h0M136.7 469.1h0M140.2 467.0h0M143.7 464.9h0M147.2 463.0h0M150.7 461.3h0M154.2 459.7h0M157.7 458.1h0M161.2 456.6h0M164.7 455.1h0M168.2 453.6h0M171.8 452.0h0M175.3 450.5h0M178.8 449.1h0M182.3 447.7h0M185.8 446.4h0M189.3 445.2h0M192.8 444.0h0M196.3 442.8h0M199.8 441.7h0M203.3 440.6h0M206.8 439.5h0M210.3 438.4h0M213.8 437.4h0M217.3 436.3h0M220.8 435.2h0M224.3 434.2h0M227.8 433.1h0M231.3 432.1h0M234.8 431.1h0M238.3 430.1h0M241.8 429.1h0M245.3 428.1h0M248.8 427.1h0M252.3 426.1h0M255.8 425.2h0M259.3 424.2h0M262.8 423.3h0M266.3 422.4h0M269.8 421.5h0M273.3 420.6h0M276.8 419.7h0M280.3 418.8h0M283.8 418.0h0M287.4 417.1h0M290.9 416.2h0M294.4 415.4h0M297.9 414.5h0M301.4 413.6h0M304.9 412.7h0M308.4 411.9h0M311.9 411.1h0M315.4 410.3h0M318.9 409.5h0M322.4 408.7h0M325.9 407.9h0M329.4 407.2h0M332.9 406.5h0M336.4 405.8h0M339.9 405.1h0M343.4 404.4h0M346.9 403.8h0M350.4 403.1h0M353.9 402.5h0M357.4 401.9h0M360.9 401.4h0M364.4 400.8h0M367.9 400.3h0M371.4 399.7h0M374.9 399.2h0M378.4 398.7h0M381.9 398.3h0M385.4 397.8h0M388.9 397.4h0M392.4 396.9h0M395.9 396.5h0M399.4 396.1h0M402.9 395.7h0M406.5 395.3h0M410.0 394.9h0M413.5 394.5h0M417.0 394.1h0M420.5 393.7h0M424.0 393.3h0M427.5 392.9h0M431.0 392.6h0M434.5 392.2h0M438.0 391.9h0M441.5 391.5h0M445.0 391.2h0M448.5 390.9h0M452.0 390.6h0M455.5 390.3h0M459.0 390.0h0M462.5 389.7h0M466.0 389.4h0M469.5 389.1h0M473.0 388.9h0M476.5 388.6h0M480.0 388.4h0M483.5 388.1h0M487.0 387.9h0M490.5 387.7h0M494.0 387.5h0M497.5 387.3h0M501.0 387.1h0M504.5 386.9h0M508.0 386.8h0M511.5 386.6h0M515.0 386.5h0M518.5 386.4h0M522.1 386.3h0M525.6 386.2h0M529.1 386.1h0M532.6 386.0h0M536.1 385.9h0M539.6 385.8h0M543.1 385.7h0M546.6 385.7h0M550.1 385.6h0M553.6 385.6h0M557.1 385.5h0M560.6 385.5h0M564.1 385.6h0M567.6 385.6h0M571.1 385.6h0M574.6 385.7h0M578.1 385.7h0M581.6 385.8h0M585.1 385.8h0M588.6 385.9h0M592.1 385.9h0M595.6 386.0h0M599.1 386.1h0M602.6 386.2h0M606.1 386.2h0M609.6 386.3h0M613.1 386.4h0M616.6 386.5h0M620.1 386.6h0M623.6 386.8h0M627.1 386.9h0M630.6 387.0h0M634.1 387.1h0M637.7 387.3h0M641.2 387.4h0M644.7 387.6h0M648.2 387.7h0M651.7 387.9h0M655.2 388.1h0M658.7 388.2h0M662.2 388.4h0M665.7 388.6h0M669.2 388.8h0M672.7 389.0h0M676.2 389.2h0M679.7 389.5h0M683.2 389.7h0M686.7 390.0h0M690.2 390.3h0M693.7 390.5h0M697.2 390.8h0M700.7 391.1h0M704.2 391.4h0M707.7 391.8h0M711.2 392.1h0M714.7 392.4h0M718.2 392.7h0M721.7 393.0h0M725.2 393.3h0M728.7 393.7h0M732.2 394.0h0M735.7 394.3h0M739.2 394.6h0M742.7 394.9h0M746.2 395.2h0M749.7 395.6h0M753.2 395.9h0M756.8 396.3h0M760.3 396.6h0M763.8 396.9h0M767.3 397.3h0M770.8 397.6h0M774.3 398.0h0M777.8 398.4h0M781.3 398.7h0M784.8 399.1h0M788.3 399.5h0M791.8 399.8h0M795.3 400.2h0M798.8 400.6h0M802.3 401.0h0M805.8 401.4h0M809.3 401.7h0M812.8 402.1h0" stroke="#00ff00" stroke-width="3.2" stroke-linecap="round" fill="none"/>
<path d="M134.8 58.8h0M135.2 72.2h0M135.6 85.0h0M135.9 97.2h0M136.2 108.8h0M136.6 120.0h0M137.0 130.6h0M137.3 140.8h0M137.7 150.6h0M138.0 159.9h0M138.3 168.9h0M138.7 177.5h0M139.1 185.7h0M139.4 193.7h0M139.8 201.3h0M140.1 208.6h0M140.4 215.7h0M140.8 222.5h0M141.2 229.0h0M141.5 235.3h0M141.8 241.3h0M142.2 247.1h0M142.6 252.7h0M142.9 258.2h0M143.2 263.5h0M143.6 268.7h0M143.9 273.6h0M144.3 278.5h0M144.7 283.1h0M145.0 287.6h0M145.3 292.0h0M145.7 296.3h0M146.1 300.4h0M146.4 304.4h0M146.8 308.2h0M147.1 312.0h0M147.4 315.6h0M147.8 319.2h0M148.2 322.6h0M148.5 325.9h0M148.8 329.2h0M149.2 332.3h0M149.6 335.4h0M149.9 338.3h0M150.2 341.2h0M150.6 344.0h0M150.9 346.8h0M151.3 349.4h0M151.7 352.0h0M152.0 354.5h0M152.4 357.0h0M152.7 359.4h0M153.1 361.7h0M153.4 363.9h0M153.8 366.2h0M154.1 368.3h0M154.4 370.4h0M154.8 372.4h0M155.2 374.4h0M155.5 376.4h0M155.8 378.3h0M156.2 380.1h0M156.6 381.9h0M156.9 383.7h0M157.2 385.4h0M157.6 387.1h0M157.9 388.7h0M158.3 390.3h0M158.7 391.9h0M159.0 393.4h0M159.4 394.9h0M159.7 396.4h0M160.1 397.8h0M160.4 399.2h0M160.8 400.6h0M161.1 401.9h0M161.5 403.2h0M161.8 404.5h0M162.2 405.7h0M162.5 407.0h0M162.8 408.2h0M163.2 409.3h0M163.6 410.5h0M163.9 411.6h0M164.2 412.7h0M164.6 413.8h0M164.9 414.8h0M165.3 415.8h0M165.7 416.9h0M166.0 417.9h0M166.3 418.8h0M166.7 419.8h0M167.1 420.7h0M167.4 421.6h0M167.8 422.5h0M168.1 423.4h0M168.4 424.3h0M168.8 425.1h0M169.2 425.9h0M169.5 426.7h0M169.9 427.5h0M170.2 428.3h0M170.6 429.1h0M170.9 429.8h0M171.2 430.6h0M171.6 431.3h0M171.9 432.0h0M172.3 432.7h0M172.7 433.4h0M173.0 434.1h0M173.3 434.7h0M173.7 435.4h0M174.1 436.0h0M174.4 436.7h0M174.8 437.3h0M175.1 437.9h0M175.4 438.5h0M175.8 439.1h0M176.2 439.6h0M176.5 440.2h0" stroke="#000" stroke-width="5.5" stroke-linecap="round" fill="none"/>
<path d="M176.5 440.2L177.6 441.8L178.6 443.4L179.7 444.9L180.7 446.3L181.8 447.6L182.8 448.9L183.9 450.1L184.9 451.3L185.9 452.4L187.0 453.5L188.1 454.5L189.1 455.5L190.2 456.4L191.2 457.3L192.2 458.2L193.3 459.0L194.3 459.8L195.4 460.6L196.4 461.3L197.5 462.0L198.6 462.7L199.6 463.3L200.7 464.0L201.7 464.6L202.8 465.2L203.8 465.7L204.9 466.3L205.9 466.8L206.9 467.4L208.0 467.9L209.1 468.3L210.1 468.8L211.1 469.3L212.2 469.7L213.2 470.1L214.3 470.5L215.3 471.0L216.4 471.3L217.4 471.7L218.5 472.1L219.6 472.5L220.6 472.8L221.7 473.1L222.7 473.5L223.8 473.8L224.8 474.1L225.9 474.4L226.9 474.7L228.0 475.0L229.0 475.3L230.1 475.6L231.1 475.8L232.2 476.1L233.2 476.4L234.2 476.6L235.3 476.8L236.4 477.1L237.4 477.3L238.4 477.5L239.5 477.7L240.6 477.9L241.6 478.1L242.7 478.3L243.7 478.5L244.8 478.7L245.8 478.9L246.9 479.1L247.9 479.3L248.9 479.4L250.0 479.6L251.1 479.7L252.1 479.9L253.2 480.1L254.2 480.2L255.2 480.3L256.3 480.5L257.3 480.6L258.4 480.8L259.4 480.9L260.5 481.0L261.6 481.1L262.6 481.3L263.7 481.4L264.7 481.5L265.8 481.6L266.8 481.7L267.9 481.8L268.9 481.9L269.9 482.0L271.0 482.1L272.1 482.2L273.1 482.3L274.2 482.4" stroke="#000" stroke-width="5.6" stroke-linecap="round" stroke-linejoin="round" fill="none"/>
<path d="M273.5 482.4L275.2 482.5L276.9 482.7L278.7 482.8L280.4 483.0L282.2 483.1L283.9 483.2L285.7 483.4L287.4 483.5L289.2 483.6L291.0 483.7L292.7 483.9L294.4 484.0L296.2 484.1L297.9 484.2L299.7 484.3L301.4 484.4L303.2 484.5L304.9 484.6L306.7 484.7L308.5 484.8L310.2 484.8L311.9 484.9L313.7 485.0L315.4 485.1L317.2 485.2L318.9 485.2L320.7 485.3L322.4 485.4L324.2 485.5L326.0 485.5L327.7 485.6L329.4 485.7L331.2 485.7L332.9 485.8L334.7 485.8L336.4 485.9L338.2 486.0L339.9 486.0L341.7 486.1L343.5 486.1L345.2 486.2L346.9 486.2L348.7 486.3L350.4 486.3L352.2 486.4L353.9 486.4L355.7 486.5L357.4 486.5L359.2 486.5L361.0 486.6L362.7 486.6L364.4 486.7L366.2 486.7L367.9 486.7L369.7 486.8L371.4 486.8L373.2 486.9L374.9 486.9L376.7 486.9L378.4 487.0L380.2 487.0L381.9 487.0L383.7 487.1L385.4 487.1L387.2 487.1L388.9 487.2L390.7 487.2L392.4 487.2L394.2 487.3L395.9 487.3L397.7 487.3L399.4 487.3L401.2 487.4L402.9 487.4L404.7 487.4L406.4 487.4L408.2 487.5L409.9 487.5L411.7 487.5L413.4 487.5L415.2 487.6L417.0 487.6L418.7 487.6L420.4 487.6L422.2 487.7L423.9 487.7L425.7 487.7L427.4 487.7L429.2 487.7L430.9 487.8L432.7 487.8L434.5 487.8L436.2 487.8L437.9 487.8L439.7 487.9L441.4 487.9L443.2 487.9L444.9 487.9L446.7 487.9L448.4 487.9L450.2 488.0L452.0 488.0L453.7 488.0L455.4 488.0L457.2 488.0L458.9 488.0L460.7 488.1L462.4 488.1L464.2 488.1L465.9 488.1L467.7 488.1L469.5 488.1L471.2 488.1L472.9 488.2L474.7 488.2L476.4 488.2L478.2 488.2L479.9 488.2L481.7 488.2L483.4 488.2L485.2 488.3L487.0 488.3L488.7 488.3L490.4 488.3L492.2 488.3L493.9 488.3L495.7 488.3L497.4 488.3L499.2 488.3L500.9 488.4L502.7 488.4L504.5 488.4L506.2 488.4L507.9 488.4L509.7 488.4L511.4 488.4L513.2 488.4L515.0 488.4L516.7 488.5L518.5 488.5L520.2 488.5L522.0 488.5L523.7 488.5L525.5 488.5L527.2 488.5L529.0 488.5L530.7 488.5L532.5 488.5L534.2 488.5L536.0 488.6L537.7 488.6L539.5 488.6L541.2 488.6L543.0 488.6L544.7 488.6L546.5 488.6L548.2 488.6L550.0 488.6L551.7 488.6L553.5 488.6L555.2 488.6L557.0 488.6L558.7 488.7L560.5 488.7L562.2 488.7L564.0 488.7L565.7 488.7L567.5 488.7L569.2 488.7L571.0 488.7L572.7 488.7L574.5 488.7L576.2 488.7L578.0 488.7L579.7 488.7L581.5 488.7L583.2 488.7L585.0 488.8L586.7 488.8L588.5 488.8L590.2 488.8L592.0 488.8L593.7 488.8L595.5 488.8L597.2 488.8L599.0 488.8L600.7 488.8L602.5 488.8L604.2 488.8L606.0 488.8L607.7 488.8L609.5 488.8L611.2 488.8L613.0 488.8L614.7 488.8L616.5 488.9L618.2 488.9L620.0 488.9L621.7 488.9L623.5 488.9L625.2 488.9L627.0 488.9L628.7 488.9L630.5 488.9L632.2 488.9L634.0 488.9L635.7 488.9L637.5 488.9L639.2 488.9L641.0 488.9L642.7 488.9L644.5 488.9L646.2 488.9L648.0 488.9L649.7 488.9L651.5 488.9L653.2 488.9L655.0 488.9L656.7 489.0L658.5 489.0L660.2 489.0L662.0 489.0L663.7 489.0L665.5 489.0L667.2 489.0L669.0 489.0L670.7 489.0L672.5 489.0L674.2 489.0L676.0 489.0L677.7 489.0L679.5 489.0L681.2 489.0L683.0 489.0L684.7 489.0L686.5 489.0L688.2 489.0L690.0 489.0L691.7 489.0L693.5 489.0L695.2 489.0L697.0 489.0L698.7 489.0L700.5 489.0L702.2 489.0L704.0 489.0L705.7 489.0L707.5 489.1L709.2 489.1L711.0 489.1L712.7 489.1L714.5 489.1L716.2 489.1L718.0 489.1L719.7 489.1L721.5 489.1L723.2 489.1L725.0 489.1L726.7 489.1L728.5 489.1L730.2 489.1L732.0 489.1L733.7 489.1L735.5 489.1L737.2 489.1L739.0 489.1L740.7 489.1L742.5 489.1L744.2 489.1L746.0 489.1L747.7 489.1L749.5 489.1L751.2 489.1L753.0 489.1L754.7 489.1L756.5 489.1L758.2 489.1L760.0 489.1L761.7 489.1L763.5 489.1L765.2 489.1L767.0 489.1L768.7 489.1L770.5 489.1L772.2 489.1L774.0 489.1L775.7 489.1L777.5 489.2L779.2 489.2L781.0 489.2L782.7 489.2L784.5 489.2L786.2 489.2L788.0 489.2L789.7 489.2L791.5 489.2L793.2 489.2L795.0 489.2L796.7 489.2L798.5 489.2L800.2 489.2L802.0 489.2L803.7 489.2L805.5 489.2L807.2 489.2L809.0 489.2L810.7 489.2L812.5 489.2L812.5 489.2" stroke="#000" stroke-width="5.9" stroke-linecap="round" stroke-linejoin="round" fill="none"/>
<circle cx="112.5" cy="230" r="2.7" fill="#000"/>
<path d="M97.5 47.5H827.7V498.65H97.5ZM112.50 498.65v-4.2M112.50 47.5v4.2M147.50 498.65v-2.5M147.50 47.5v2.5M182.50 498.65v-2.5M182.50 47.5v2.5M217.50 498.65v-2.5M217.50 47.5v2.5M252.50 498.65v-2.5M252.50 47.5v2.5M287.50 498.65v-4.2M287.50 47.5v4.2M322.50 498.65v-2.5M322.50 47.5v2.5M357.50 498.65v-2.5M357.50 47.5v2.5M392.50 498.65v-2.5M392.50 47.5v2.5M427.50 498.65v-2.5M427.50 47.5v2.5M462.50 498.65v-4.2M462.50 47.5v4.2M497.50 498.65v-2.5M497.50 47.5v2.5M532.50 498.65v-2.5M532.50 47.5v2.5M567.50 498.65v-2.5M567.50 47.5v2.5M602.50 498.65v-2.5M602.50 47.5v2.5M637.50 498.65v-4.2M637.50 47.5v4.2M672.50 498.65v-2.5M672.50 47.5v2.5M707.50 498.65v-2.5M707.50 47.5v2.5M742.50 498.65v-2.5M742.50 47.5v2.5M777.50 498.65v-2.5M777.50 47.5v2.5M812.50 498.65v-4.2M812.50 47.5v4.2M97.5 489.50h4.2M827.7 489.50h-4.2M97.5 463.55h2.5M827.7 463.55h-2.5M97.5 437.60h2.5M827.7 437.60h-2.5M97.5 411.65h2.5M827.7 411.65h-2.5M97.5 385.70h2.5M827.7 385.70h-2.5M97.5 359.75h4.2M827.7 359.75h-4.2M97.5 333.80h2.5M827.7 333.80h-2.5M97.5 307.85h2.5M827.7 307.85h-2.5M97.5 281.90h2.5M827.7 281.90h-2.5M97.5 255.95h2.5M827.7 255.95h-2.5M97.5 230.00h4.2M827.7 230.00h-4.2M97.5 204.05h2.5M827.7 204.05h-2.5M97.5 178.10h2.5M827.7 178.10h-2.5M97.5 152.15h2.5M827.7 152.15h-2.5M97.5 126.20h2.5M827.7 126.20h-2.5M97.5 100.25h4.2M827.7 100.25h-4.2M97.5 74.30h2.5M827.7 74.30h-2.5M97.5 48.35h2.5M827.7 48.35h-2.5" stroke="#929292" stroke-width="1" fill="none"/>
<text transform="matrix(0.3303 0 0 0.3171 103.94 529.79)" style="font-family:'Liberation Serif',serif;" font-size="100" fill="#000" stroke="#000" stroke-width="1.85">0</text>
<text transform="matrix(0.3475 0 0 0.3175 278.08 529.79)" style="font-family:'Liberation Serif',serif;" font-size="100" fill="#000" stroke="#000" stroke-width="1.80">5</text>
<text transform="matrix(0.3295 0 0 0.3156 446.50 529.79)" style="font-family:'Liberation Serif',serif;" font-size="100" fill="#000" stroke="#000" stroke-width="1.86">10</text>
<text transform="matrix(0.3276 0 0 0.3179 621.22 529.79)" style="font-family:'Liberation Serif',serif;" font-size="100" fill="#000" stroke="#000" stroke-width="1.86">15</text>
<text transform="matrix(0.3355 0 0 0.3171 795.73 529.79)" style="font-family:'Liberation Serif',serif;" font-size="100" fill="#000" stroke="#000" stroke-width="1.84">20</text>
<text transform="matrix(0.3223 0 0 0.3129 53.37 109.66)" style="font-family:'Liberation Serif',serif;" font-size="100" fill="#000" stroke="#000" stroke-width="1.89">1.5</text>
<text transform="matrix(0.3265 0 0 0.3151 53.33 239.95)" style="font-family:'Liberation Serif',serif;" font-size="100" fill="#000" stroke="#000" stroke-width="1.87">1.0</text>
<text transform="matrix(0.3244 0 0 0.3136 53.06 369.86)" style="font-family:'Liberation Serif',serif;" font-size="100" fill="#000" stroke="#000" stroke-width="1.88">0.5</text>
<text transform="matrix(0.3288 0 0 0.3121 53.05 499.76)" style="font-family:'Liberation Serif',serif;" font-size="100" fill="#000" stroke="#000" stroke-width="1.87">0.0</text>
<path transform="matrix(1.0000 0 0 1.0000 393.56 554.84)" d="M2.99 0H6.84V5.99H14.37V9.41H6.84V21.6Q6.84 25.69 10.6 25.69H14.37V29.09H9.9Q2.99 29.09 2.99 22.3V9.41H0V5.99H2.99Z" fill="#000"/>
<text transform="matrix(0.3824 0 0 0.4112 435.45 583.53)" style="font-family:'Liberation Sans',sans-serif;" font-size="100" fill="#000" stroke="#000" stroke-width="0.88">[</text>
<text transform="matrix(0.4006 0 0 0.4395 446.86 584.00)" style="font-family:'Liberation Sans',sans-serif;" font-size="100" fill="#000" stroke="#000" stroke-width="0.83">G</text>
<text transform="matrix(0.4318 0 0 0.4256 480.02 583.49)" style="font-family:'Liberation Sans',sans-serif;" font-size="100" fill="#000" stroke="#000" stroke-width="0.82">y</text>
<text transform="matrix(0.5168 0 0 0.4339 503.40 583.73)" style="font-family:'Liberation Sans',sans-serif;" font-size="100" fill="#000" stroke="#000" stroke-width="0.74">r</text>
<text transform="matrix(0.3915 0 0 0.4112 521.51 583.53)" style="font-family:'Liberation Sans',sans-serif;" font-size="100" fill="#000" stroke="#000" stroke-width="0.87">]</text>
<text transform="matrix(0.3460 0 0 0.3326 582.72 33.10)" style="font-family:'Liberation Sans',sans-serif;" font-size="100" fill="#ff8000" stroke="#ff8000" stroke-width="1.03">0.02</text>
<text transform="matrix(0.3454 0 0 0.3326 741.13 33.10)" style="font-family:'Liberation Sans',sans-serif;" font-size="100" fill="#ff8000" stroke="#ff8000" stroke-width="1.03">0.03</text>
<text transform="matrix(0 -0.3489 0.4277 0 36.57 108.83)" style="font-family:'Liberation Sans',sans-serif;" font-size="100" fill="#0000ff" stroke="#0000ff" stroke-width="0.90">)</text>
<path transform="matrix(0 -0.9951 1.0278 0 7.00 126.10)" d="M2.99 0H6.84V5.99H14.37V9.41H6.84V21.6Q6.84 25.69 10.6 25.69H14.37V29.09H9.9Q2.99 29.09 2.99 22.3V9.41H0V5.99H2.99Z" fill="#0000ff"/>
<text transform="matrix(0 -0.3564 0.4277 0 36.57 140.74)" style="font-family:'Liberation Sans',sans-serif;" font-size="100" fill="#0000ff" stroke="#0000ff" stroke-width="0.89">(</text>
<text transform="matrix(0 -0.3864 0.4353 0 36.70 166.17)" style="font-family:'Liberation Sans',sans-serif;" font-size="100" fill="#0000ff" stroke="#0000ff" stroke-width="0.85">a</text>
<text transform="matrix(0 -0.3677 0.4277 0 36.57 211.84)" style="font-family:'Liberation Sans',sans-serif;" font-size="100" fill="#00ff00" stroke="#00ff00" stroke-width="0.88">)</text>
<path transform="matrix(0 -0.9603 1.0278 0 7.00 228.60)" d="M2.99 0H6.84V5.99H14.37V9.41H6.84V21.6Q6.84 25.69 10.6 25.69H14.37V29.09H9.9Q2.99 29.09 2.99 22.3V9.41H0V5.99H2.99Z" fill="#00ff00"/>
<text transform="matrix(0 -0.3828 0.4277 0 36.57 243.80)" style="font-family:'Liberation Sans',sans-serif;" font-size="100" fill="#00ff00" stroke="#00ff00" stroke-width="0.86">(</text>
<text transform="matrix(0 -0.4430 0.4351 0 36.70 278.85)" style="font-family:'Liberation Sans',sans-serif;font-style:italic;" font-size="100" fill="#00ff00" stroke="#00ff00" stroke-width="0.80">b</text>
<text transform="matrix(0 -0.4205 0.4470 0 36.79 439.14)" style="font-family:'Liberation Sans',sans-serif;" font-size="100" fill="#000" stroke="#000" stroke-width="0.81">G</text>
<text transform="matrix(0 -0.4358 0.4306 0 36.73 391.97)" style="font-family:'Liberation Sans',sans-serif;font-style:italic;" font-size="100" fill="#000" stroke="#000" stroke-width="0.81">z</text>
<text transform="matrix(0 -0.4399 0.4306 0 36.73 360.17)" style="font-family:'Liberation Sans',sans-serif;font-style:italic;" font-size="100" fill="#000" stroke="#000" stroke-width="0.80">z</text>
<rect x="5.9" y="443.05" width="39.1" height="3.3" fill="#000"/>
<rect x="5.9" y="315.35" width="39.1" height="3.3" fill="#000"/>
<rect x="4.2" y="348.1" width="4.2" height="4.2" fill="#000"/>
<rect x="4.2" y="375.3" width="4.2" height="4.2" fill="#000"/>
<path d="M7.3 325.8L6.5 337.4M2.3 330.9L13.4 334.6M2.5 333.6L13.2 328.4" stroke="#000" stroke-width="2.2" fill="none"/>
<path d="M676.0 16.9L660.6 23.3V25.9L676.0 32.3V29.5L664.8 24.6L676.0 19.7ZM731.0 16.9L715.6 23.3V25.9L731.0 32.3V29.5L719.8 24.6L731.0 19.7Z" fill="#ff8000"/>
<path d="M684.9 32.8L693.6 9.7H697.4L706.1 32.8H703.0L695.5 12.9L688.0 32.8Z" fill="#ff8000"/>
<path d="M691.2 5.0C691.9 2.2 693.9 2.2 695.6 3.4S699.6 5.3 700.4 1.9" stroke="#ff8000" stroke-width="1.6" fill="none"/>
</svg></body></html>
